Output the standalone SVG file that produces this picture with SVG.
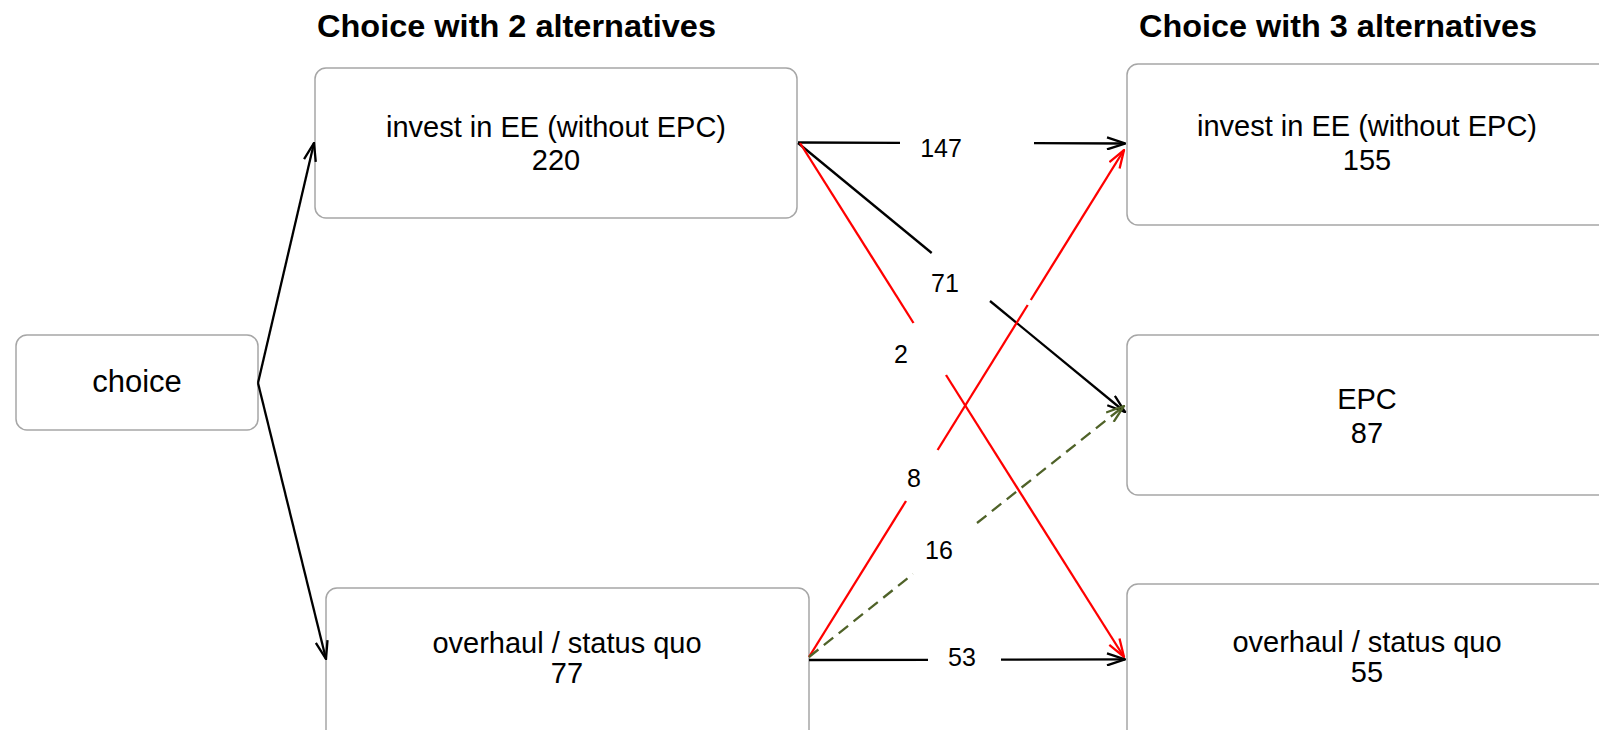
<svg xmlns="http://www.w3.org/2000/svg" width="1599" height="730" viewBox="0 0 1599 730">
<style>
.box{fill:#fff;stroke:#a6a6a6;stroke-width:1.5}
.nt{font-family:"Liberation Sans",Arial,sans-serif;font-size:29px;fill:#000;text-anchor:middle}
.title{font-family:"Liberation Sans",Arial,sans-serif;font-size:31px;font-weight:bold;fill:#000}
.lbl{font-family:"Liberation Sans",Arial,sans-serif;font-size:25px;fill:#000;text-anchor:middle}
.k{stroke:#000;stroke-width:2.3;fill:none}
.r{stroke:#ff0000;stroke-width:2.3;fill:none}
.g{stroke:#4f6228;stroke-width:2.3;fill:none;stroke-dasharray:12 7}
</style>
<defs>
<marker id="ak" viewBox="0 0 20 14" refX="19" refY="7" markerWidth="20" markerHeight="14" markerUnits="userSpaceOnUse" orient="auto"><path d="M1,1 L19,7 L1,13" fill="none" stroke="#000" stroke-width="2.3"/></marker>
<marker id="ar" viewBox="0 0 20 14" refX="19" refY="7" markerWidth="20" markerHeight="14" markerUnits="userSpaceOnUse" orient="auto"><path d="M1,1 L19,7 L1,13" fill="none" stroke="#ff0000" stroke-width="2.3"/></marker>
<marker id="ag" viewBox="0 0 20 14" refX="19" refY="7" markerWidth="20" markerHeight="14" markerUnits="userSpaceOnUse" orient="auto"><path d="M1,1 L19,7 L1,13" fill="none" stroke="#4f6228" stroke-width="2.3"/></marker>
</defs>
<rect width="1599" height="730" fill="#fff"/>
<text class="title" x="317" y="37" textLength="399" lengthAdjust="spacingAndGlyphs">Choice with 2 alternatives</text>
<text class="title" x="1139" y="37" textLength="398" lengthAdjust="spacingAndGlyphs">Choice with 3 alternatives</text>
<g id="n-choice"><rect class="box" x="16" y="335" width="242" height="95" rx="11"/><text class="nt" x="137" y="392" style="font-size:31px">choice</text></g>
<g id="n-ee2"><rect class="box" x="315" y="68" width="482" height="150" rx="11"/><text class="nt" x="556" y="137">invest in EE (without EPC)</text><text class="nt" x="556" y="170">220</text></g>
<g id="n-sq2"><rect class="box" x="326" y="588" width="483" height="160" rx="11"/><text class="nt" x="567" y="653">overhaul / status quo</text><text class="nt" x="567" y="683">77</text></g>
<g id="n-ee3"><rect class="box" x="1127" y="64" width="482" height="161" rx="11"/><text class="nt" x="1367" y="136">invest in EE (without EPC)</text><text class="nt" x="1367" y="170">155</text></g>
<g id="n-epc"><rect class="box" x="1127" y="335" width="482" height="160" rx="11"/><text class="nt" x="1367" y="409">EPC</text><text class="nt" x="1367" y="443">87</text></g>
<g id="n-sq3"><rect class="box" x="1127" y="584" width="482" height="170" rx="11"/><text class="nt" x="1367" y="652">overhaul / status quo</text><text class="nt" x="1367" y="682">55</text></g>
<g id="connectors">
<path class="k" d="M258,383 L314,143" marker-end="url(#ak)"/>
<path class="k" d="M258,383 L326,659" marker-end="url(#ak)"/>
<path class="k" d="M798,142.5 L900,142.8"/>
<path class="k" d="M1034,143.2 L1125,143.5" marker-end="url(#ak)"/>
<path class="k" d="M798,143 L931.7,253"/>
<path class="k" d="M990,301 L1125,412" marker-end="url(#ak)"/>
<path class="r" d="M800,143 L913.5,323"/>
<path class="r" d="M946,375 L1124,657" marker-end="url(#ar)"/>
<path class="r" d="M809,657 L906,501"/>
<path class="r" d="M937.6,450 L1027.7,305"/>
<path class="r" d="M1030.8,300 L1124,150" marker-end="url(#ar)"/>
<path class="g" d="M809,657 L913,574"/>
<path class="g" d="M977,523 L1124,406" marker-end="url(#ag)"/>
<path class="k" d="M809,660 L928,659.8"/>
<path class="k" d="M1001,659.6 L1125,659.4" marker-end="url(#ak)"/>
<text class="lbl" x="941" y="157">147</text>
<text class="lbl" x="945" y="292">71</text>
<text class="lbl" x="901" y="363">2</text>
<text class="lbl" x="914" y="487">8</text>
<text class="lbl" x="939" y="559">16</text>
<text class="lbl" x="962" y="666">53</text>
</g>
</svg>
